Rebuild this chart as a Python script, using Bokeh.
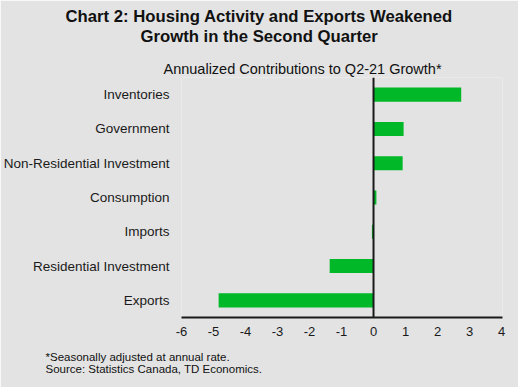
from bokeh.plotting import figure
from bokeh.models import Span, FixedTicker, Range1d, FactorRange, Title
from bokeh.embed import file_html
from bokeh.resources import INLINE

categories = ["Inventories", "Government", "Non-Residential Investment",
              "Consumption", "Imports", "Residential Investment", "Exports"]
values = [2.74, 0.94, 0.91, 0.09, -0.05, -1.37, -4.84]
x_ticks = [-6, -5, -4, -3, -2, -1, 0, 1, 2, 3, 4]

title_lines = ["Chart 2: Housing Activity and Exports Weakened",
               "Growth in the Second Quarter"]
subtitle = "Annualized Contributions to Q2-21 Growth*"
footnotes = ["*Seasonally adjusted at annual rate.",
             "Source: Statistics Canada, TD Economics."]

BG = "#e3e3e3"
BAR = "#00b828"
INK = "#1a1a1a"
TXT = "#111111"
FONT = "Liberation Sans"

W, H = 518, 387
FL, FB = 181, 317  # frame left / bottom in canvas pixels
p = figure(width=W, height=H, output_backend="svg", toolbar_location=None,
           y_range=FactorRange(factors=list(reversed(categories))),
           x_range=Range1d(-6, 4.03))
p.min_border_left = FL
p.min_border_right = W - FL - 321
p.min_border_top = 77
p.min_border_bottom = H - FB
p.background_fill_color = BG
p.border_fill_color = BG
p.outline_line_color = None
p.grid.grid_line_color = None

p.hbar(y=categories, left=0, right=values, height=0.41, color=BAR, line_color=None)

p.add_layout(Span(location=0, dimension="height", line_color=INK, line_width=2))

xa = p.xaxis[0]
xa.ticker = FixedTicker(ticks=x_ticks)
xa.major_label_overrides = {t: str(t) for t in x_ticks}
xa.axis_line_color = INK
xa.axis_line_width = 2
xa.major_tick_line_color = None
xa.major_tick_out = 0
xa.minor_tick_line_color = None
xa.major_label_text_font = FONT
xa.major_label_text_font_size = "13px"
xa.major_label_text_color = INK
xa.major_label_standoff = 9

ya = p.yaxis[0]
ya.axis_line_color = None
ya.major_tick_line_color = None
ya.major_tick_out = 0
ya.minor_tick_line_color = None
ya.major_label_text_font = FONT
ya.major_label_text_font_size = "13.5px"
ya.major_label_text_color = INK
ya.major_label_standoff = 12

def title(text, side, size, bold, offset, standoff, valign):
    p.add_layout(Title(text=text, text_font=FONT, text_font_size=size,
                       text_font_style="bold" if bold else "normal", text_color=TXT,
                       align="left", offset=offset, standoff=standoff,
                       vertical_align=valign, text_line_height=1.0), side)

# above panel: stacked outward from the frame (first added = closest)
title(subtitle, "above", "14.5px", False, 163 - FL, 2, "bottom")
title(title_lines[1], "above", "16.7px", True, 140 - FL, 20, "top")
title(title_lines[0], "above", "16.7px", True, 65 - FL, -19, "bottom")
# below panel: after the x axis
title("\n".join(footnotes), "below", "11.5px", False, 45 - FL, 21, "bottom")

open("out.html", "w").write(file_html(p, INLINE))
